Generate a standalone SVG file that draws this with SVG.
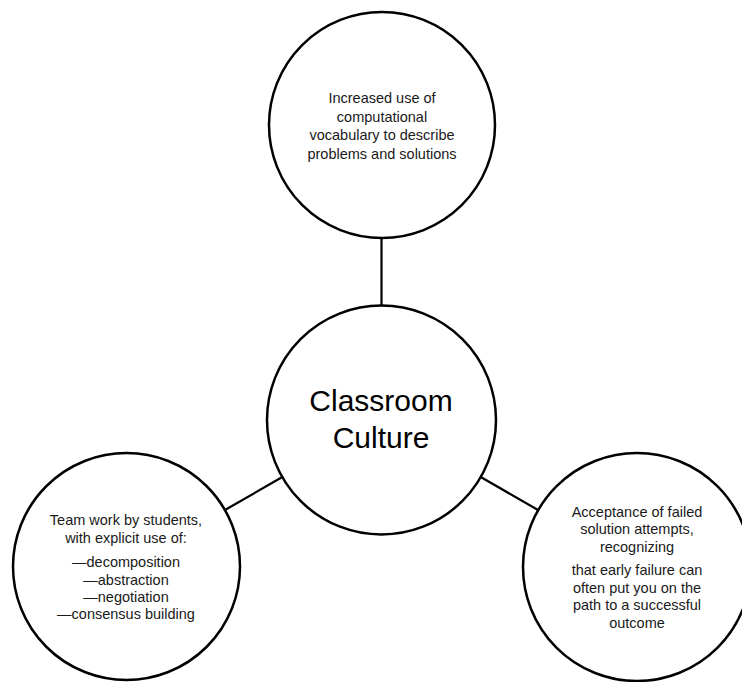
<svg xmlns="http://www.w3.org/2000/svg" width="742" height="682" viewBox="0 0 742 682">
<style>
.node circle{fill:#fff;stroke:#000;stroke-width:2.5}
.lbl{font-family:"Liberation Sans",Arial,sans-serif;font-size:14.5px;fill:#1a1a1a;text-anchor:middle}
.big{font-family:"Liberation Sans",Arial,sans-serif;font-size:30px;fill:#000;text-anchor:middle}
.conn line{stroke:#000;stroke-width:2.2}
</style>
<rect width="742" height="682" fill="#fff"/>
<g id="connectors" class="conn">
<line x1="381.5" y1="238" x2="381.5" y2="306"/>
<line x1="282.3" y1="477" x2="225" y2="510"/>
<line x1="480.7" y1="477" x2="538" y2="510"/>
</g>
<g id="node-top" class="node">
<circle cx="382" cy="125" r="113"/>
<text class="lbl" x="382" y="103">Increased use of</text>
<text class="lbl" x="382" y="121.5">computational</text>
<text class="lbl" x="382" y="140">vocabulary to describe</text>
<text class="lbl" x="382" y="158.5">problems and solutions</text>
</g>
<g id="node-center" class="node">
<circle cx="381.5" cy="420" r="114.5"/>
<text class="big" x="381" y="411">Classroom</text>
<text class="big" x="381" y="448">Culture</text>
</g>
<g id="node-left" class="node">
<circle cx="126.5" cy="566.5" r="113.5"/>
<text class="lbl" x="126" y="525">Team work by students,</text>
<text class="lbl" x="126" y="543">with explicit use of:</text>
<text class="lbl" x="126" y="567">—decomposition</text>
<text class="lbl" x="126" y="585">—abstraction</text>
<text class="lbl" x="126" y="602">—negotiation</text>
<text class="lbl" x="126" y="619">—consensus building</text>
</g>
<g id="node-right" class="node">
<circle cx="637" cy="567" r="114"/>
<text class="lbl" x="637" y="517">Acceptance of failed</text>
<text class="lbl" x="637" y="534">solution attempts,</text>
<text class="lbl" x="637" y="551.5">recognizing</text>
<text class="lbl" x="637" y="575">that early failure can</text>
<text class="lbl" x="637" y="592.5">often put you on the</text>
<text class="lbl" x="637" y="610">path to a successful</text>
<text class="lbl" x="637" y="628">outcome</text>
</g>
</svg>
